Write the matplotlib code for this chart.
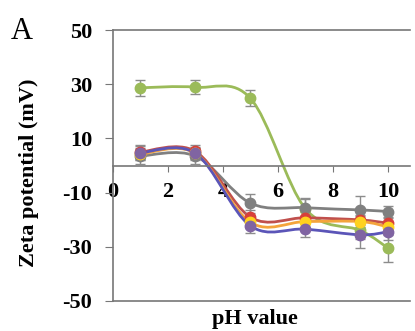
import numpy as np
import matplotlib.pyplot as plt
from matplotlib.path import Path
from matplotlib.patches import PathPatch

# Data
ph = [1, 3, 5, 7, 9, 10]
green = [28.7, 28.9, 24.8, -16.0, -24.0, -30.5]
green_err = [3.0, 2.5, 3.0, 3.5, 3.0, 5.0]
grey = [3.5, 3.5, -13.9, -15.6, -16.4, -17.0]
grey_err = [3.0, 3.0, 3.5, 3.5, 5.0, 2.0]
red = [5.0, 5.2, -19.1, -19.3, -20.1, -21.3]
red_err = [2.5, 2.5, 2.5, 2.0, 2.0, 2.0]
orange = [4.2, 4.5, -21.0, -20.7, -20.7, -22.7]
orange_err = [2.0, 2.0, 2.0, 2.0, 2.0, 2.0]
purple = [4.7, 4.5, -22.3, -23.5, -25.6, -24.5]
purple_err = [2.5, 2.5, 2.5, 3.0, 5.0, 3.0]

yticks = [-50, -30, -10, 10, 30, 50]
xticks = [0, 2, 4, 6, 8, 10]

SERIES = [
    (green, green_err, '#9BBB59', '#9BBB59', 'o'),
    (grey, grey_err, '#808080', '#808080', 'o'),
    (red, red_err, '#C0504D', '#D8403A', 'o'),
    (orange, orange_err, '#F4A43C', '#FFD21F', 'o'),
    (purple, purple_err, '#5B55B8', '#8064A2', 'o'),
]

plt.rcParams['font.family'] = ['Liberation Serif', 'DejaVu Serif']
plt.rcParams['axes.unicode_minus'] = False


def smooth_path(x, y):
    '''
    Bezier path through the points, like Excel's smoothed line
    '''
    pts = np.column_stack([x, y]).astype(float)
    n = len(pts)
    verts = [pts[0]]
    codes = [Path.MOVETO]
    for i in range(n - 1):
        p0 = pts[max(i - 1, 0)]
        p1 = pts[i]
        p2 = pts[i + 1]
        p3 = pts[min(i + 2, n - 1)]
        c1 = p1 + (p2 - p0) / 6.0
        c2 = p2 - (p3 - p1) / 6.0
        verts += [c1, c2, p2]
        codes += [Path.CURVE4] * 3
    return Path(verts, codes)


fig = plt.figure(figsize=(4.15, 3.31), dpi=100)
ax = fig.add_axes([0.272, 0.091, 0.716, 0.818])

for vals, errs, lc, mc, mk in SERIES:
    ax.add_patch(PathPatch(smooth_path(ph, vals), fill=False,
                           edgecolor=lc, lw=2.0, zorder=2))
    ax.errorbar(ph, vals, yerr=errs, fmt='none', ecolor='#8C8C8C',
                elinewidth=1, capsize=3.5, capthick=1, zorder=3)
    ax.plot(ph, vals, linestyle='none', marker=mk, markersize=7.5,
            color=mc, zorder=4)

ax.set_xlim(0, 10.8)
ax.set_ylim(-50, 50)

ax.spines['right'].set_visible(False)
ax.spines['bottom'].set_position(('data', 0))
for s in ['left', 'bottom', 'top']:
    ax.spines[s].set_color('#777777')
    ax.spines[s].set_linewidth(1.2)
ax.axhline(-50, color='#777777', lw=1.2, clip_on=False)

ax.set_yticks(yticks)
ax.set_xticks(xticks)
ax.tick_params(axis='y', direction='out', length=6, color='#777777',
               labelsize=16, pad=9)
ax.tick_params(axis='x', direction='out', length=4, color='#777777',
               labelsize=16, pad=8)
for lab in ax.get_xticklabels() + ax.get_yticklabels():
    lab.set_fontweight('bold')

ax.set_ylabel('Zeta potential (mV)', fontsize=16, fontweight='bold')
ax.yaxis.set_label_coords(-0.25, 0.475)
fig.text(0.615, 0.035, 'pH value', fontsize=16, fontweight='bold',
         ha='center', va='center')
fig.text(0.052, 0.905, 'A', fontsize=22, ha='center', va='center')

fig.savefig('out.png', dpi=100)
